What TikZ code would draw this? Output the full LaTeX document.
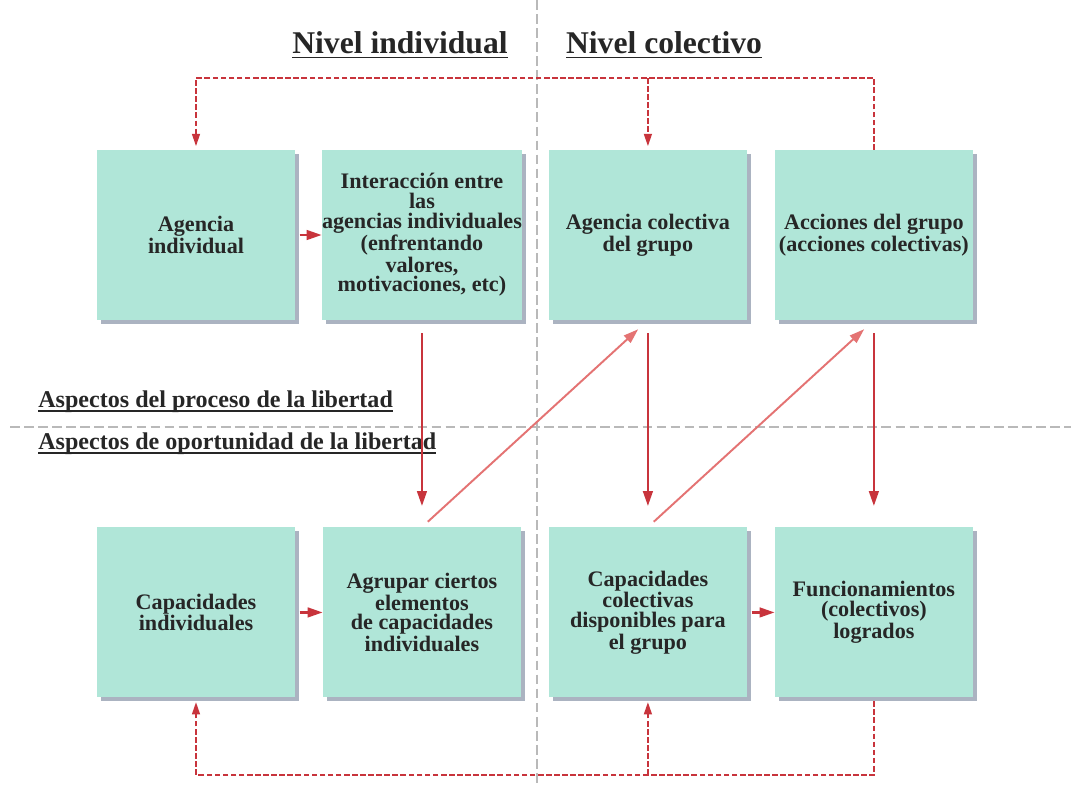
\documentclass[tikz,border=0pt]{standalone}
\usepackage{fontspec}
\setmainfont{Liberation Serif}
\usetikzlibrary{arrows.meta,positioning,shadows}
\definecolor{boxteal}{RGB}{176,230,216}
\definecolor{arrowred}{RGB}{200,52,60}
\definecolor{diagred}{RGB}{228,115,115}
\definecolor{guidegray}{RGB}{185,185,185}
\definecolor{shadowgray}{RGB}{150,160,178}
\newcommand{\ulined}[1]{\setbox0=\hbox{#1}\rlap{\rule[-2.6pt]{\wd0}{0.9pt}}\box0}

\begin{document}
\begin{tikzpicture}[x=0.02cm,y=-0.02cm,node distance=4.52cm,on grid,
   box/.style={fill=boxteal, minimum width=3.96cm, minimum height=3.4cm, align=center,
     inner xsep=0pt, font=\bfseries\fontsize{12.6}{11.2}\selectfont, text=black!85,
     drop shadow={shadow xshift=0.08cm, shadow yshift=-0.08cm, fill=shadowgray, opacity=0.8}},
   guide/.style={guidegray, line width=1.3pt, dash pattern=on 5.5pt off 2.5pt},
   flow/.style={arrowred, line width=1.3pt, -{Triangle[length=8.5pt,width=5.5pt]}},
   back/.style={diagred, line width=1.1pt, -{Triangle[length=8.5pt,width=5.5pt]}},
   loopline/.style={arrowred, line width=1pt, dash pattern=on 3.2pt off 1.4pt},
   looptip/.style={-{Triangle[length=7pt,width=4.5pt]}},
   heading/.style={font=\bfseries\fontsize{18}{20}\selectfont, text=black!85},
   aspect/.style={font=\bfseries\fontsize{13.7}{15}\selectfont, text=black!85, anchor=base west, inner sep=0pt}]
   \path[use as bounding box, fill=white] (0,0) rectangle (1071,785);

   % guide lines
   \draw[guide] (537,0) -- (537,785);
   \draw[guide] (10,427) -- (1071,427);

   % headings
   \node[heading] (hind) at (400,45) {\ulined{Nivel individual}};
   \node[heading] (hcol) at (664,45) {\ulined{Nivel colectivo}};
   \node[aspect] (proc) at (38,407) {\ulined{Aspectos del proceso de la libertad}};
   \node[aspect] (opor) at (38,449) {\ulined{Aspectos de oportunidad de la libertad}};

   % process row
   \node[box] (a1) at (196,235) {Agencia\\individual};
   \node[box] (a2) [right=of a1] {Interacción entre\\las\\agencias individuales\\(enfrentando\\valores,\\motivaciones, etc)};
   \node[box] (a3) [right=of a2] {Agencia colectiva\\del grupo};
   \node[box] (a4) [right=of a3] {Acciones del grupo\\(acciones colectivas)};

   % opportunity row
   \node[box] (c1) [below=7.55cm of a1] {Capacidades\\individuales};
   \node[box] (c2) [right=of c1] {Agrupar ciertos\\elementos\\de capacidades\\individuales};
   \node[box] (c3) [right=of c2] {Capacidades\\colectivas\\disponibles para\\el grupo};
   \node[box] (c4) [right=of c3] {Funcionamientos\\(colectivos)\\logrados};

   \coordinate (topline) at (0,78);
   \coordinate (botline) at (0,775);

   % arrows
   \draw[flow, shorten <=2.5pt] (a1) -- (a2);
   \draw[flow, shorten <=2.5pt] (c1) -- (c2);
   \draw[flow, shorten <=2.5pt] (c3) -- (c4);
   \foreach \up/\down in {a2/c2, a3/c3, a4/c4}
     \draw[flow, shorten <=7.4pt, shorten >=12pt] (\up) -- (\down);
   \draw[back, shorten <=4.5pt, shorten >=7.5pt] (c2.north) -- (a3.south);
   \draw[back, shorten <=4.5pt, shorten >=7.5pt] (c3.north) -- (a4.south);

   % feedback loops
   \draw[loopline, looptip, shorten >=2pt] (a4.north) -- (a4.north |- topline) -| (a1.north);
   \draw[loopline, looptip, shorten >=2pt] (a3.north |- topline) -- (a3.north);
   \draw[loopline, looptip, shorten <=2pt, shorten >=2.5pt] (c4.south) -- (c4.south |- botline) -| (c1.south);
   \draw[loopline, looptip, shorten >=2.5pt] (c3.south |- botline) -- (c3.south);
\end{tikzpicture}
\end{document}
